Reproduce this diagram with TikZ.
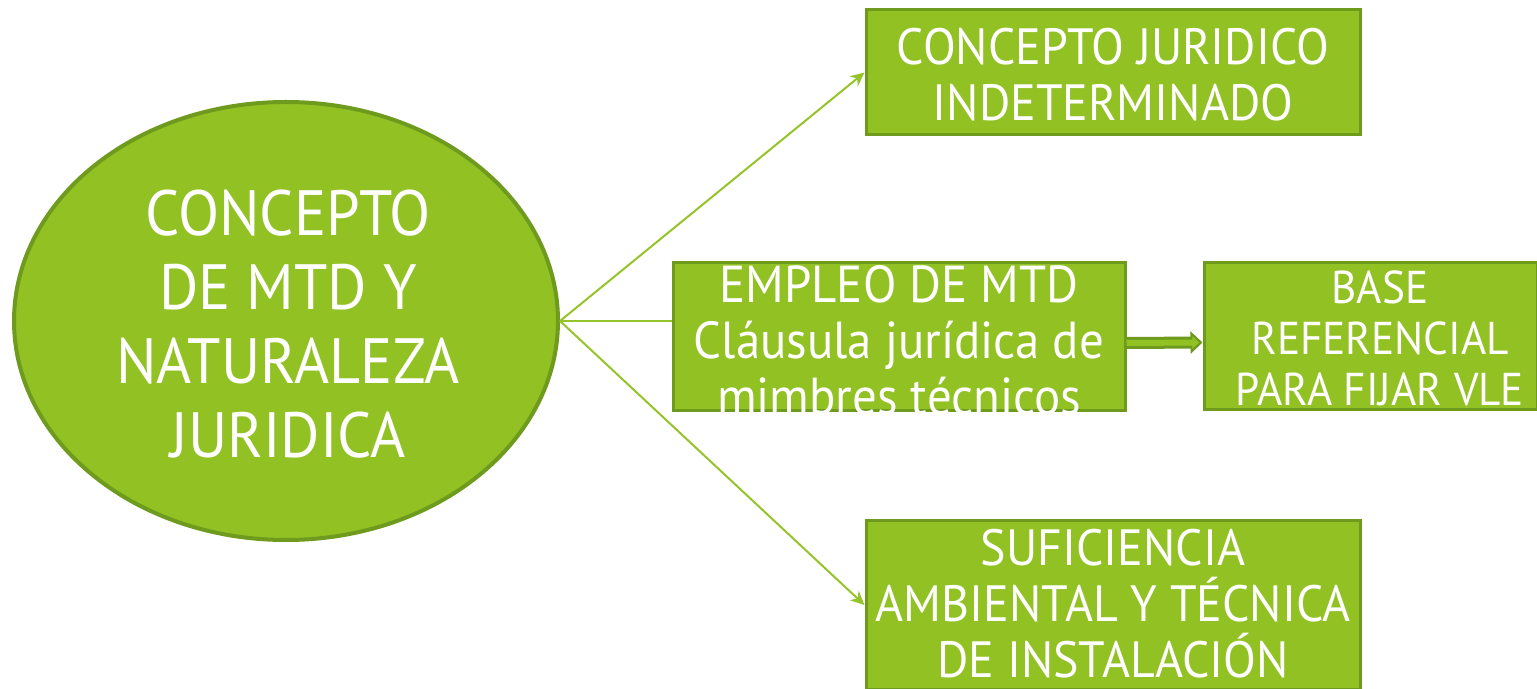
\documentclass[tikz,border=0pt]{standalone}
\usepackage{fontspec}
\setmainfont[FakeStretch=0.94]{PT Sans}
\usetikzlibrary{shapes.geometric,arrows.meta}
\definecolor{gfill}{HTML}{92C123}
\definecolor{gdark}{HTML}{6E9A1E}
\definecolor{gline}{HTML}{94C42A}
\begin{document}
\begin{tikzpicture}[x=0.5pt,y=-0.5pt,
  box/.style={draw=gdark,line width=1.5pt,fill=gfill,rectangle,inner sep=0pt},
  txt/.style={text=white,align=center,inner sep=0pt},
  conn/.style={draw=gline,line width=1pt},
  tipa/.style={-{Stealth[length=7pt,width=6.5pt]}}]
\useasboundingbox (0,0) rectangle (1537,689);
\clip (0,0) rectangle (1537,689);
% main ellipse
\node[ellipse,draw=gdark,line width=2pt,fill=gfill,inner sep=0pt,
      minimum width=272pt,minimum height=219pt] (E) at (286,321) {};
\node[txt,font=\fontsize{32}{37}\selectfont] (Et) at (288,324)
  {CONCEPTO\\DE MTD Y\\NATURALEZA\\JURIDICA};
% boxes
\node[box,minimum width=247pt,minimum height=62.5pt] (b1) at (1113,72.5) {};
\node[txt,font=\fontsize{25.5}{28}\selectfont] (b1t) at (1113,75)
  {CONCEPTO JURIDICO\\INDETERMINADO};
\node[box,minimum width=226pt,minimum height=74pt] (b2) at (899,337) {};
\node[txt,font=\fontsize{26}{28}\selectfont] (b2t) at (899,340)
  {EMPLEO DE MTD\\Cláusula jurídica de\\mimbres técnicos};
\node[box,minimum width=166.5pt,minimum height=73.5pt] (b3) at (1370.5,336.5) {};
\node[txt,font=\fontsize{23}{25.5}\selectfont] (b3t) at (1380,338)
  {BASE\\REFERENCIAL\\PARA FIJAR VLE};
\node[box,minimum width=247pt,minimum height=84pt] (b4) at (1113,605) {};
\node[txt,font=\fontsize{25.5}{28}\selectfont] (b4t) at (1113,604)
  {SUFICIENCIA\\AMBIENTAL Y TÉCNICA\\DE INSTALACIÓN};
% connectors
\draw[conn,tipa] (E.east) -- (b1.west);
\draw[conn] (E.east) -- (E.east -| b2.west);
\draw[conn,tipa] (E.east) -- (b4.west);
% double arrow
\draw[gdark,line width=6pt,-{Triangle[length=6pt,width=11pt]}]
  ([yshift=-3pt]b2.east) -- ([yshift=-3pt]b3.west);
\draw[gfill,line width=3pt,-{Triangle[length=3.5pt,width=6pt]},shorten >=1.6pt]
  ([yshift=-3pt]b2.east) -- ([yshift=-3pt]b3.west);
\end{tikzpicture}
\end{document}
